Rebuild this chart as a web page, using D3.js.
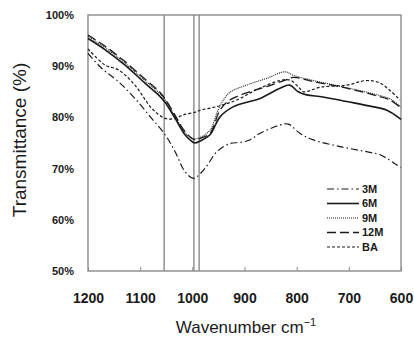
<!DOCTYPE html>
<html>
<head>
<meta charset="utf-8">
<script src="https://cdn.jsdelivr.net/npm/d3@7"></script>
<style>
  body { margin: 0; background: #fff; }
  svg { display: block; }
</style>
</head>
<body>
<div id="chart"></div>
<script>
// wavenumber ticks and transmittance ticks
let xTicks = [1200, 1100, 1000, 900, 800, 700, 600];
let yTicks = [50, 60, 70, 80, 90, 100];

// marker lines (cm-1)
let markers = [1054, 997, 987];

// series
let wn3M = [1200, 1174, 1142, 1110, 1078, 1052, 1033, 1014, 998, 985, 973, 953, 928, 909, 890, 870, 832, 816, 794, 768, 717, 666, 640, 608, 600];
let t3M = [92.5, 89.6, 87.0, 83.7, 79.8, 76.6, 73.3, 69.4, 68.1, 69.0, 70.4, 73.3, 74.9, 75.1, 75.6, 76.9, 78.5, 78.7, 76.9, 75.6, 74.3, 73.3, 72.7, 70.7, 70.2];

let wn6M = [1200, 1167, 1129, 1091, 1065, 1052, 1033, 1014, 1001, 995, 985, 966, 947, 921, 890, 870, 832, 813, 797, 781, 750, 704, 659, 627, 600];
let t6M = [95.4, 93.2, 90.2, 86.7, 84.4, 82.9, 79.8, 76.6, 75.3, 75.0, 75.4, 76.6, 80.1, 82.1, 83.1, 83.7, 85.7, 86.3, 85.0, 84.4, 84.0, 83.1, 82.2, 81.4, 79.6];

let wn9M = [1200, 1167, 1129, 1091, 1065, 1052, 1033, 1014, 1001, 995, 985, 966, 953, 944, 928, 896, 858, 822, 806, 768, 704, 653, 621, 600];
let t9M = [95.8, 93.6, 90.6, 87.2, 84.9, 83.4, 80.2, 77.0, 76.0, 75.8, 76.1, 77.5, 80.8, 82.8, 84.9, 86.3, 87.6, 88.9, 88.2, 87.2, 85.8, 84.6, 83.6, 82.0];

let wn12M = [1200, 1167, 1129, 1091, 1065, 1052, 1033, 1014, 1001, 995, 985, 966, 947, 928, 890, 858, 819, 806, 768, 704, 653, 621, 600];
let t12M = [96.1, 93.9, 90.9, 87.5, 85.2, 83.6, 80.4, 77.2, 75.9, 75.6, 75.9, 76.9, 81.4, 83.4, 85.0, 86.0, 87.4, 87.8, 87.0, 85.7, 84.4, 83.4, 81.8];

let wnBA = [1200, 1167, 1142, 1110, 1078, 1052, 1033, 1017, 995, 985, 953, 915, 877, 832, 813, 797, 787, 755, 704, 666, 640, 602];
let tBA = [93.4, 90.2, 89.3, 86.3, 81.8, 79.8, 79.8, 80.5, 81.0, 81.4, 82.1, 83.4, 85.4, 87.2, 87.3, 86.0, 85.0, 85.9, 86.3, 87.2, 86.7, 83.4];

let seriesNames = ["3M", "6M", "9M", "12M", "BA"];

let series = [
    { wn: wn3M, t: t3M, dash: "7,3,1.5,3", width: 1.2 },
    { wn: wn6M, t: t6M, dash: null, width: 1.6 },
    { wn: wn9M, t: t9M, dash: "1,1", width: 1.1 },
    { wn: wn12M, t: t12M, dash: "9,4", width: 1.3 },
    { wn: wnBA, t: tBA, dash: "3,2", width: 1.2 }
];

let margin = { top: 15, right: 13, bottom: 71, left: 88 };
let totalW = 414, totalH = 342;
let width = totalW - margin.left - margin.right;
let height = totalH - margin.top - margin.bottom;

let svg = d3.select("#chart").append("svg")
    .attr("width", totalW)
    .attr("height", totalH);

let g = svg.append("g")
    .attr("transform", "translate(" + margin.left + "," + margin.top + ")");

let x = d3.scaleLinear().domain([1200, 600]).range([0, width]);
let y = d3.scaleLinear().domain([50, 100]).range([height, 0]);

let frameColour = "#8a8a8a";
let ink = "#1a1a1a";

// x axis: tiny inward ticks + bold labels
let xAxis = g.append("g")
    .attr("transform", "translate(0," + height + ")")
    .call(d3.axisBottom(x).tickValues(xTicks).tickFormat(d3.format("d"))
        .tickSizeInner(-4).tickSizeOuter(0).tickPadding(22));
xAxis.select(".domain").remove();
xAxis.selectAll(".tick line").attr("stroke", frameColour).attr("stroke-width", 1);
xAxis.selectAll(".tick text")
    .attr("fill", ink)
    .style("font", "bold 14px 'Liberation Sans', Arial, sans-serif");

// y axis: labels only
let yAxis = g.append("g")
    .call(d3.axisLeft(y).tickValues(yTicks).tickSize(0).tickPadding(14).tickFormat(function (d) { return d + "%"; }));
yAxis.select(".domain").remove();
yAxis.selectAll(".tick text")
    .attr("fill", ink)
    .style("font", "bold 11px 'Liberation Sans', Arial, sans-serif");

// marker lines
g.selectAll(".marker")
    .data(markers)
    .enter()
    .append("line")
    .attr("class", "marker")
    .attr("x1", function (d) { return x(d); })
    .attr("x2", function (d) { return x(d); })
    .attr("y1", 0)
    .attr("y2", height)
    .attr("stroke", frameColour)
    .attr("stroke-width", 1.4);

// plot frame
g.append("rect")
    .attr("width", width)
    .attr("height", height)
    .attr("fill", "none")
    .attr("stroke", frameColour)
    .attr("stroke-width", 1.4);

let line = d3.line()
    .x(function (d) { return x(d[0]); })
    .y(function (d) { return y(d[1]); })
    .curve(d3.curveCatmullRom.alpha(0.5));

g.selectAll(".series")
    .data(series)
    .enter()
    .append("path")
    .attr("class", "series")
    .attr("fill", "none")
    .attr("stroke", ink)
    .attr("stroke-width", function (d) { return d.width; })
    .attr("stroke-dasharray", function (d) { return d.dash; })
    .attr("d", function (d) { return line(d3.zip(d.wn, d.t)); });

// legend
let legend = svg.append("g").attr("transform", "translate(327,189)");
let row = legend.selectAll(".row")
    .data(series)
    .enter()
    .append("g")
    .attr("transform", function (d, i) { return "translate(0," + (i * 14.5) + ")"; });

row.append("line")
    .attr("x1", 0).attr("x2", 32)
    .attr("stroke", ink)
    .attr("stroke-width", function (d) { return d.width; })
    .attr("stroke-dasharray", function (d) { return d.dash; });

row.append("text")
    .attr("x", 35)
    .attr("dy", "0.36em")
    .attr("text-anchor", "start")
    .attr("fill", ink)
    .style("font", "bold 11px 'Liberation Sans', Arial, sans-serif")
    .text(function (d, i) { return seriesNames[i]; });

// axis titles
svg.append("text")
    .attr("transform", "translate(26," + (margin.top + height / 2 - 3) + ") rotate(-90)")
    .attr("text-anchor", "middle")
    .attr("fill", ink)
    .style("font", "19px 'Liberation Sans', Arial, sans-serif")
    .text("Transmittance (%)");

let xt = svg.append("text")
    .attr("x", 246)
    .attr("y", 333)
    .attr("text-anchor", "middle")
    .attr("fill", ink)
    .style("font", "17px 'Liberation Sans', Arial, sans-serif");
xt.append("tspan").text("Wavenumber cm");
xt.append("tspan").attr("dy", -7).style("font-size", "11px").text("\u22121");
</script>
</body>
</html>
